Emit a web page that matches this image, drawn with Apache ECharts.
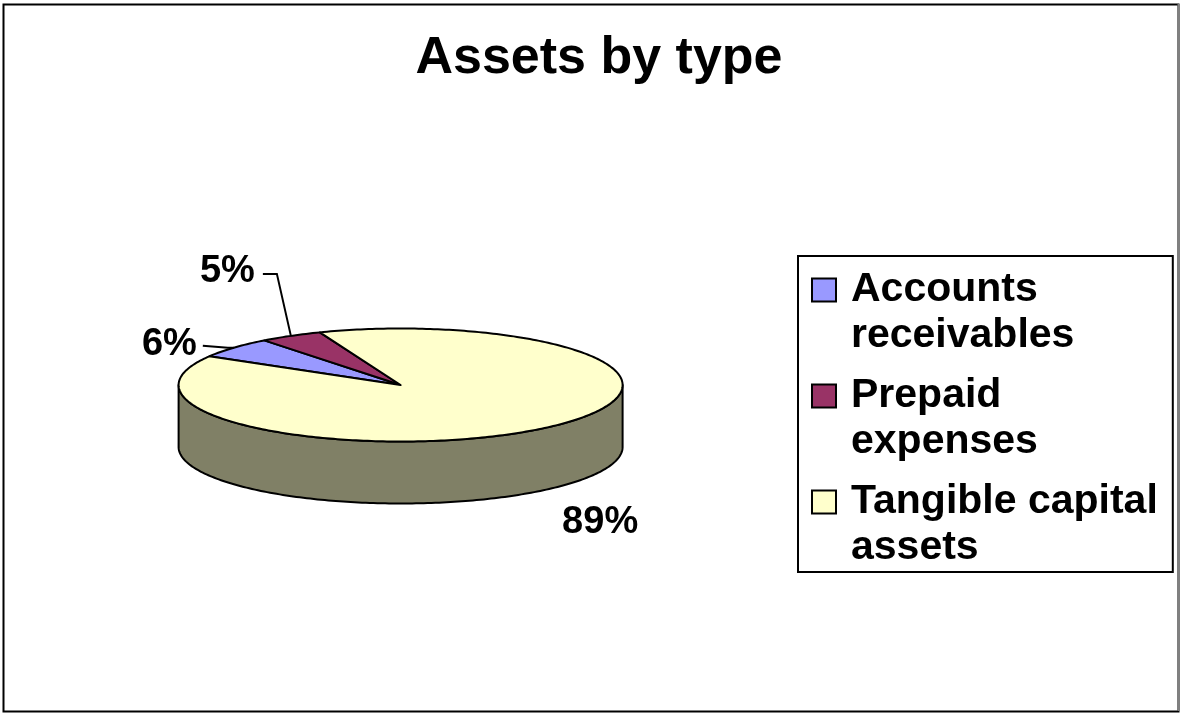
<!DOCTYPE html>
<html>
<head>
<meta charset="utf-8">
<script src="https://cdn.jsdelivr.net/npm/echarts@6/dist/echarts.min.js"></script>
<style>
  html, body { margin: 0; padding: 0; background: #ffffff; }
  #chart { width: 1181px; height: 713px; }
</style>
</head>
<body>
<div id="chart"></div>
<script>
// ---- Data ----
const categories = ['Accounts receivables', 'Prepaid expenses', 'Tangible capital assets'];
const values = [6.0, 4.6, 89.4];

// ---- Styles / geometry (kept apart from the data) ----
const palette = ['#9999FF', '#993366', '#FFFFCC'];
const FONT = '"Liberation Sans", Arial, Helvetica, sans-serif';
const PIE = { cx: 400.6, cy: 385, rx: 222, ry: 56.5, depth: 62, startAngle: 149.5 };
const labelLayout = [
  { dx: -37, dy: -2.7, align: 'right', leader: [[0, 0], [-6, 0], [-31, -2]] },
  { dx: -36, dy: -64, align: 'right', leader: [[0, 0], [-14, -62], [-28, -62]] },
  { dx: 55.6, dy: 94.5, align: 'center', leader: null }
];

const total = values.reduce((a, b) => a + b, 0);

function pt(angleDeg, down) {
  const r = angleDeg * Math.PI / 180;
  return [PIE.cx + PIE.rx * Math.cos(r), PIE.cy - PIE.ry * Math.sin(r) + (down || 0)];
}
function arc(from, to, down) {
  const n = Math.max(2, Math.ceil(Math.abs(from - to) / 1.0));
  const pts = [];
  for (let i = 0; i <= n; i++) pts.push(pt(from + (to - from) * i / n, down));
  return pts;
}
function darken(hex, f) {
  const c = echarts.color.parse(hex);
  return 'rgb(' + Math.round(c[0] * f) + ',' + Math.round(c[1] * f) + ',' + Math.round(c[2] * f) + ')';
}

function renderSlice(params, api) {
  const s = params.seriesIndex;
  let before = 0;
  for (let k = 0; k < s; k++) before += values[k];
  const v = api.value(0);
  const a0 = PIE.startAngle - before / total * 360;
  const a1 = a0 - v / total * 360;
  const color = palette[s];
  const children = [];

  // side wall (only the front half of the rim is visible)
  for (let k = -2; k <= 2; k++) {
    const lo = Math.max(a1, -180 + 360 * k);
    const hi = Math.min(a0, 0 + 360 * k);
    if (hi > lo) {
      const topArc = arc(hi, lo, 0);
      const botArc = arc(lo, hi, PIE.depth);
      children.push({
        type: 'polygon', z2: 1,
        shape: { points: topArc.concat(botArc) },
        style: { fill: darken(color, 0.5), stroke: '#000', lineWidth: 2, lineJoin: 'round' }
      });
    }
  }
  // top face
  const topPts = [[PIE.cx, PIE.cy]].concat(arc(a0, a1, 0));
  children.push({
    type: 'polygon', z2: 10,
    shape: { points: topPts },
    style: { fill: color, stroke: '#000', lineWidth: 2, lineJoin: 'round' }
  });
  // label
  const mid = (a0 + a1) / 2;
  const anchor = pt(mid, 0);
  const lay = labelLayout[s];
  if (lay.leader) {
    children.push({
      type: 'polyline', z2: 20,
      shape: { points: lay.leader.map(p => [anchor[0] + p[0], anchor[1] + p[1]]) },
      style: { stroke: '#000', lineWidth: 2, fill: null }
    });
  }
  children.push({
    type: 'text', z2: 30,
    x: anchor[0] + lay.dx, y: anchor[1] + lay.dy,
    style: {
      text: Math.round(v / total * 100) + '%',
      fill: '#000', font: 'bold 38px ' + FONT,
      align: lay.align, verticalAlign: 'middle'
    }
  });
  return { type: 'group', children: children };
}

const chart = echarts.init(document.getElementById('chart'), null, { renderer: 'canvas' });
chart.setOption({
  animation: false,
  backgroundColor: '#ffffff',
  title: {
    text: 'Assets by type',
    left: 594, textAlign: 'center', top: 28,
    textStyle: { fontFamily: FONT, fontWeight: 'bold', fontSize: 52, color: '#000' }
  },
  legend: {
    orient: 'vertical',
    left: 798, top: 256,
    padding: [10, 15, 0, 13],
    borderColor: '#000', borderWidth: 2,
    itemGap: 12,
    itemWidth: 34, itemHeight: 92,
    icon: 'path://M0,11.5H24V34.5H0Z M34,92 M0,0',
    itemStyle: { borderColor: '#000', borderWidth: 2 },
    formatter: name => name.replace(/ (\S+)$/, '\n$1'),
    textStyle: { fontFamily: FONT, fontWeight: 'bold', fontSize: 41, lineHeight: 46, color: '#000' },
    selectedMode: false,
    data: categories
  },
  graphic: [
    { type: 'rect', shape: { x: 3.5, y: 4.5, width: 1175, height: 707 },
      style: { fill: null, stroke: '#000', lineWidth: 2 }, silent: true },
    { type: 'line', shape: { x1: 1178.5, y1: 4, x2: 1178.5, y2: 711 },
      style: { stroke: '#808080', lineWidth: 2 }, silent: true }
  ],
  series: categories.map((name, i) => ({
    type: 'custom',
    name: name,
    coordinateSystem: 'none',
    itemStyle: { color: palette[i] },
    renderItem: renderSlice,
    data: [values[i]]
  }))
});
</script>
</body>
</html>
